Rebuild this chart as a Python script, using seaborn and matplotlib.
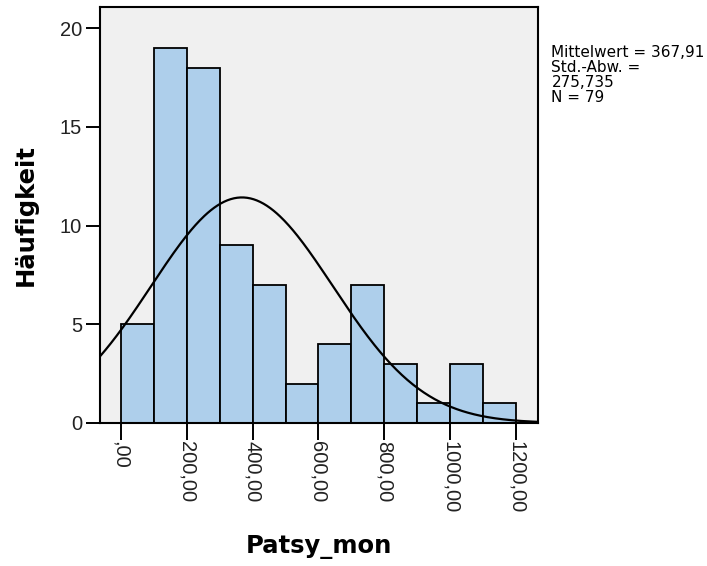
import numpy as np
import pandas as pd
import matplotlib
matplotlib.use("Agg")
import matplotlib.pyplot as plt
import seaborn as sns

# Histogram of Patsy_mon: bin edges (width 100) and frequencies per bin
bin_edges = [0, 100, 200, 300, 400, 500, 600, 700, 800, 900, 1000, 1100, 1200]
counts = [5, 19, 18, 9, 7, 2, 4, 7, 3, 1, 3, 1]

# Summary statistics shown next to the plot
mean_val = 367.91
sd_val = 275.735
n_val = 79

x_ticks = [0, 200, 400, 600, 800, 1000, 1200]
x_tick_labels = [",00", "200,00", "400,00", "600,00", "800,00", "1000,00", "1200,00"]
y_ticks = [0, 5, 10, 15, 20]

sns.set_theme(style="white")
plt.rcParams["font.family"] = ["Liberation Sans", "DejaVu Sans"]

fig = plt.figure(figsize=(7.07, 5.66), dpi=100)
ax = fig.add_axes([0.1414, 0.2527, 0.6196, 0.7349])
ax.set_facecolor("#F0F0F0")

centers = [(a + b) / 2 for a, b in zip(bin_edges[:-1], bin_edges[1:])]
df = pd.DataFrame({"Patsy_mon": centers, "n": counts})
sns.histplot(data=df, x="Patsy_mon", weights="n", bins=bin_edges, ax=ax,
             color="#AECFEB", alpha=1.0, edgecolor="black", linewidth=1.3,
             zorder=2)

xlim = (-62.8, 1266)
ax.set_xlim(*xlim)
ax.set_ylim(0, 21.08)

# Fitted normal curve scaled to counts (N * bin width)
xs = np.linspace(xlim[0], xlim[1], 400)
bw = bin_edges[1] - bin_edges[0]
ys = n_val * bw / (sd_val * np.sqrt(2 * np.pi)) * np.exp(-0.5 * ((xs - mean_val) / sd_val) ** 2)
sns.lineplot(x=xs, y=ys, ax=ax, color="black", linewidth=1.6, zorder=3)

ax.set_xticks(x_ticks)
ax.set_xticklabels(x_tick_labels, rotation=-90, va="top", ha="center")
ax.set_yticks(y_ticks)
ax.set_yticklabels([str(v) for v in y_ticks])
ax.tick_params(axis="both", direction="out", length=10, width=1.4,
               colors="black", labelcolor="#222222", labelsize=14.5, pad=3,
               bottom=True, left=True)
ax.tick_params(axis="x", length=12, pad=1)

for sp in ax.spines.values():
    sp.set_color("black")
    sp.set_linewidth(1.5)
    sp.set_zorder(4)

ax.set_xlabel("")
ax.set_ylabel("")
label_font = dict(fontsize=17.5, fontweight="bold", family=["DejaVu Sans"], color="black")
fig.text(319 / 707, 1 - 547 / 566, "Patsy_mon", ha="center", va="center", **label_font)
fig.text(26 / 707, 1 - 215 / 566, "Häufigkeit", ha="center", va="center",
         rotation=90, **label_font)

stats_text = ("Mittelwert = 367,91\nStd.-Abw. =\n275,735\nN = 79")
fig.text(0.780, 0.920, stats_text, fontsize=11, family=["DejaVu Sans"],
         va="top", ha="left", linespacing=0.98, color="black")

fig.savefig("out.png", dpi=100, facecolor="white")
